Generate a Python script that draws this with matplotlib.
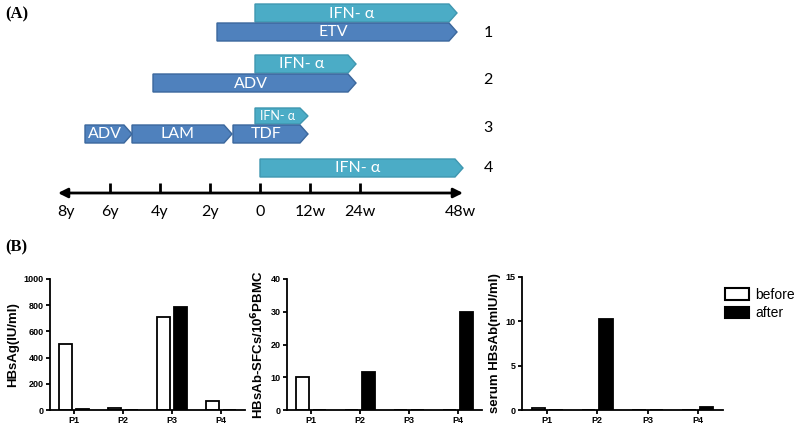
import matplotlib.pyplot as plt
from matplotlib.patches import Polygon, Patch

# ---- panel A data: treatment timelines ----
# timeline units: 1 unit = 2 years on the left, 12 weeks on the right
time_ticks = [-4, -3, -2, -1, 0, 1, 2, 4]
time_labels = ['8y', '6y', '4y', '2y', '0', '12w', '24w', '48w']

seg_patient = [1, 1, 2, 2, 3, 3, 3, 3, 4]
seg_layer = ['up', 'low', 'up', 'low', 'up', 'low', 'low', 'low', 'low']
seg_drug = ['IFN- α', 'ETV', 'IFN- α', 'ADV', 'IFN- α', 'ADV', 'LAM', 'TDF', 'IFN- α']
seg_start = [-0.1, -0.86, -0.1, -2.14, -0.1, -3.5, -2.56, -0.54, 0.0]
seg_end = [3.94, 3.94, 1.92, 1.92, 0.96, -2.56, -0.56, 0.96, 4.06]

# ---- panel B data ----
patients = ['P1', 'P2', 'P3', 'P4']
hbsag_before = [505, 18, 713, 68]
hbsag_after = [5, 0, 790, 0]
sfc_before = [10, 0, 0, 0]
sfc_after = [0, 11.6, 0, 30]
hbsab_before = [0.25, 0, 0.05, 0]
hbsab_after = [0, 10.3, 0, 0.35]

TEAL = '#4bacc6'
TEAL_EDGE = '#3f97b0'
BLUE = '#4f81bd'
BLUE_EDGE = '#3b679c'
FONT_A = 'Lato'

fig = plt.figure(figsize=(7.96, 4.26), dpi=100)

# top panel: x in timeline units (50 px each, 0 at px 260), y in pixels from top
axA = fig.add_axes([0, 1 - 225 / 426, 1, 225 / 426])
axA.set_xlim(-260 / 50, (796 - 260) / 50)
axA.set_ylim(225, 0)
axA.axis('off')

row_y = {1: 32, 2: 83, 3: 134, 4: 168}
tip = 0.16

for p, layer, drug, x0, x1 in zip(seg_patient, seg_layer, seg_drug, seg_start, seg_end):
    yc = row_y[p] if layer == 'low' else row_y[p] - 19
    h = 18
    fs = 11.5
    if p == 3 and layer == 'up':
        h = 16
        yc += 1
        fs = 9
    is_ifn = drug.startswith('IFN')
    pts = [(x0, yc - h / 2), (x1 - tip, yc - h / 2), (x1, yc),
           (x1 - tip, yc + h / 2), (x0, yc + h / 2)]
    axA.add_patch(Polygon(pts, closed=True,
                          facecolor=TEAL if is_ifn else BLUE,
                          edgecolor=TEAL_EDGE if is_ifn else BLUE_EDGE, lw=1))
    axA.text((x0 + x1 - tip) / 2, yc + 0.5, drug, color='white', fontsize=fs,
             ha='center', va='center', family=FONT_A)

for p, yc in zip([1, 2, 3, 4], [33, 80, 128, 168]):
    axA.text(4.56, yc, str(p), fontsize=11.5, ha='center', va='center',
             family=FONT_A)

# timeline axis
axA.annotate('', xy=(4.06, 193), xytext=(-4.04, 193),
             arrowprops=dict(arrowstyle='<|-|>', color='black', lw=2,
                             mutation_scale=14, shrinkA=0, shrinkB=0))
for t, lab in zip(time_ticks, time_labels):
    if -4 < t < 4:
        axA.plot([t, t], [183, 193], color='black', lw=2, solid_capstyle='butt')
    axA.text(t + (0.12 if t == -4 else 0), 212, lab, fontsize=11.5,
             ha='center', va='center', family=FONT_A)

fig.text(0.006, 0.967, '(A)', fontsize=12, fontweight='bold',
         family='Liberation Serif', va='center')
fig.text(0.006, 0.42, '(B)', fontsize=12, fontweight='bold',
         family='Liberation Serif', va='center')


# ---- panel B: Prism-style bar charts ----
def prism_bars(rect, before, after, ymax, yticks, ylabel):
    ax = fig.add_axes(rect)
    xs = range(len(patients))
    w = 0.27
    off = 0.175
    ax.bar([x - off for x in xs], before, width=w, color='white',
           edgecolor='black', lw=1.3)
    ax.bar([x + off for x in xs], after, width=w, color='black',
           edgecolor='black', lw=1.3)
    ax.set_xlim(-0.5, len(patients) - 0.5)
    ax.set_ylim(0, ymax)
    ax.set_yticks(yticks)
    ax.set_xticks(list(xs))
    ax.set_xticklabels(patients)
    for s in ['top', 'right']:
        ax.spines[s].set_visible(False)
    for s in ['left', 'bottom']:
        ax.spines[s].set_linewidth(1.3)
    ax.tick_params(axis='both', direction='out', length=3, width=1.3,
                   labelsize=6.5, pad=1.5)
    for lab in ax.get_xticklabels() + ax.get_yticklabels():
        lab.set_fontweight('bold')
        lab.set_family('Liberation Sans')
    ax.set_ylabel(ylabel, fontsize=9.5, fontweight='bold',
                  family='Liberation Sans', labelpad=3)
    return ax


bot = 1 - 410 / 426
prism_bars([50 / 796, bot, 195 / 796, 131 / 426], hbsag_before, hbsag_after,
           1000, [0, 200, 400, 600, 800, 1000], 'HBsAg(IU/ml)')
prism_bars([287 / 796, bot, 195 / 796, 131 / 426], sfc_before, sfc_after,
           40, [0, 10, 20, 30, 40], r'HBsAb-SFCs/10$^{\mathbf{6}}$PBMC')
prism_bars([522 / 796, bot, 201 / 796, 133 / 426], hbsab_before, hbsab_after,
           15, [0, 5, 10, 15], 'serum HBsAb(mIU/ml)')

handles = [Patch(facecolor='white', edgecolor='black', lw=1.5, label='before'),
           Patch(facecolor='black', edgecolor='black', lw=1.5, label='after')]
fig.legend(handles=handles, loc='upper left', bbox_to_anchor=(718 / 796, 1 - 281 / 426),
           frameon=False, handlelength=1.7, handleheight=0.9,
           handletextpad=0.5, labelspacing=0.3, borderpad=0,
           prop={'family': 'Liberation Sans', 'size': 10})

fig.savefig('out.png', dpi=100)
